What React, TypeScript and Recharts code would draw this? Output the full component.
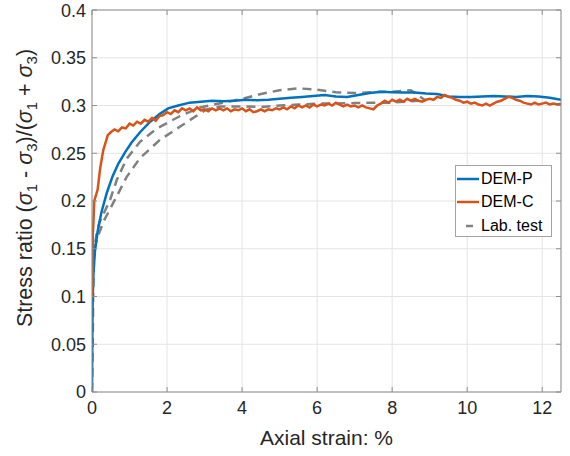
import React from 'react';
import { LineChart, Line, XAxis, YAxis, CartesianGrid, Legend } from 'recharts';

const X_TICKS = [0, 2, 4, 6, 8, 10, 12];
const Y_TICKS = [0, 0.05, 0.1, 0.15, 0.2, 0.25, 0.3, 0.35, 0.4];

// DEM-P (blue)
const demPStrain = [0, 0.005, 0.01, 0.015, 0.02, 0.04, 0.08, 0.15, 0.25, 0.39, 0.55, 0.7, 0.88, 1.05, 1.28, 1.55, 1.8, 2.03, 2.3, 2.6, 2.9, 3.2, 3.5, 3.8, 4.1, 4.4, 4.7, 5.0, 5.3, 5.6, 5.9, 6.2, 6.5, 6.8, 7.1, 7.4, 7.7, 8.0, 8.3, 8.6, 8.9, 9.2, 9.5, 9.8, 10.1, 10.4, 10.7, 11.0, 11.3, 11.6, 11.9, 12.2, 12.5];
const demPRatio = [0, 0.03, 0.06, 0.085, 0.1, 0.125, 0.148, 0.168, 0.188, 0.208, 0.226, 0.239, 0.251, 0.261, 0.272, 0.283, 0.291, 0.297, 0.3, 0.303, 0.304, 0.305, 0.3045, 0.305, 0.306, 0.3055, 0.306, 0.307, 0.308, 0.309, 0.31, 0.311, 0.3095, 0.309, 0.311, 0.313, 0.3145, 0.314, 0.3135, 0.3135, 0.3125, 0.312, 0.3095, 0.309, 0.309, 0.3095, 0.31, 0.3095, 0.309, 0.31, 0.3095, 0.308, 0.306];

// DEM-C (orange)
const demCStrain = [
  0, 0.004, 0.008, 0.012, 0.016, 0.02, 0.03, 0.06, 0.15, 0.22, 0.3, 0.42,
  0.5, 0.6, 0.7, 0.8, 0.9,
  1.0, 1.1, 1.2, 1.3, 1.4, 1.5, 1.6, 1.7, 1.8, 1.9,
  2.0, 2.1, 2.2, 2.3, 2.4, 2.5, 2.6, 2.7, 2.8, 2.9,
  3.0, 3.1, 3.2, 3.3, 3.4, 3.5, 3.6, 3.7, 3.8, 3.9,
  4.0, 4.1, 4.2, 4.3, 4.4, 4.5, 4.6, 4.7, 4.8, 4.9,
  5.0, 5.1, 5.2, 5.3, 5.4, 5.5, 5.6, 5.7, 5.8, 5.9,
  6.0, 6.1, 6.2, 6.3, 6.4, 6.5, 6.6, 6.7, 6.8, 6.9,
  7.0, 7.1, 7.2, 7.3, 7.4, 7.5, 7.6, 7.7, 7.8, 7.9,
  8.0, 8.1, 8.2, 8.3, 8.4, 8.5, 8.6, 8.7, 8.8, 8.9,
  9.0, 9.1, 9.2, 9.3, 9.4, 9.5, 9.6, 9.7, 9.8, 9.9,
  10.0, 10.1, 10.2, 10.3, 10.4, 10.5, 10.6, 10.7, 10.8, 10.9,
  11.0, 11.1, 11.2, 11.3, 11.4, 11.5, 11.6, 11.7, 11.8, 11.9,
  12.0, 12.1, 12.2, 12.3, 12.4, 12.5,
];
const demCRatio = [
  0.1, 0.165, 0.12, 0.16, 0.11, 0.165, 0.17, 0.2, 0.212, 0.235, 0.253, 0.269,
  0.272, 0.275, 0.273, 0.277, 0.276,
  0.281, 0.279, 0.283, 0.281, 0.285, 0.283, 0.287, 0.284, 0.289, 0.29,
  0.293, 0.291, 0.295, 0.293, 0.297, 0.295, 0.297, 0.294, 0.298, 0.295,
  0.296, 0.294, 0.297, 0.295, 0.297, 0.295, 0.297, 0.294, 0.296, 0.295,
  0.297, 0.294, 0.296, 0.293, 0.294, 0.296, 0.294, 0.296, 0.295, 0.297,
  0.296, 0.298, 0.296, 0.299, 0.297, 0.3, 0.298, 0.3, 0.298, 0.301,
  0.299, 0.301, 0.3, 0.302, 0.3, 0.303, 0.301, 0.299, 0.301, 0.299,
  0.3, 0.298, 0.3, 0.298, 0.297, 0.296, 0.3, 0.302, 0.305, 0.303,
  0.306, 0.304, 0.306, 0.304, 0.307, 0.305, 0.307, 0.305, 0.304, 0.306,
  0.307, 0.306, 0.309, 0.308, 0.311, 0.309, 0.308, 0.306, 0.305, 0.303,
  0.304, 0.302, 0.303, 0.301, 0.3, 0.302, 0.3, 0.302, 0.304, 0.305,
  0.307, 0.309, 0.308, 0.306, 0.305, 0.303, 0.302, 0.301, 0.303, 0.301,
  0.302, 0.303, 0.301, 0.302, 0.301, 0.302,
];

// Lab. test (two dashed branches)
const labUpperStrain = [0, 0.02, 0.03, 0.06, 0.12, 0.2, 0.35, 0.48, 0.66, 0.92, 1.28, 1.73, 2.35, 2.88, 3.5, 4.0, 4.5, 5.0, 5.5, 6.0, 6.5, 7.0, 7.5, 8.0, 8.5, 8.9];
const labUpperRatio = [0, 0.05, 0.1, 0.15, 0.165, 0.178, 0.19, 0.201, 0.222, 0.244, 0.262, 0.276, 0.289, 0.298, 0.303, 0.307, 0.312, 0.316, 0.318, 0.3165, 0.314, 0.313, 0.314, 0.3145, 0.316, 0.305];
const labLowerStrain = [0.06, 0.15, 0.3, 0.5, 0.7, 0.92, 1.28, 1.81, 2.35, 2.7, 3.06, 3.42, 4.0, 4.5, 5.0, 5.5, 6.0, 6.5, 7.0, 7.5, 8.0, 8.3, 8.7];
const labLowerRatio = [0.15, 0.162, 0.178, 0.193, 0.208, 0.225, 0.245, 0.264, 0.278, 0.287, 0.296, 0.299, 0.299, 0.2985, 0.3, 0.301, 0.302, 0.302, 0.3025, 0.303, 0.303, 0.304, 0.305];

const LEGEND_ORDER = ['DEM-P', 'DEM-C', 'Lab. test'];

const toPoints = (xs: number[], ys: number[]) => xs.map((x, i) => ({ x, y: ys[i] }));

const demP = toPoints(demPStrain, demPRatio);
const demC = toPoints(demCStrain, demCRatio);
const labUpper = toPoints(labUpperStrain, labUpperRatio);
const labLower = toPoints(labLowerStrain, labLowerRatio);

const FONT = '"Liberation Sans", Arial, Helvetica, sans-serif';
const AXIS_COLOR = '#8f8f8f';
const TEXT_COLOR = '#262626';

const YLabel = () => (
  <text
    transform="translate(32, 188) rotate(-90)"
    textAnchor="middle"
    fontFamily={FONT}
    fontSize={21.5}
    fill={TEXT_COLOR}
  >
    Stress ratio (<tspan fontStyle="italic">σ</tspan>
    <tspan fontSize={15} dy={5}>1</tspan>
    <tspan dy={-5}> - </tspan>
    <tspan fontStyle="italic">σ</tspan>
    <tspan fontSize={15} dy={5}>3</tspan>
    <tspan dy={-5}>)/(</tspan>
    <tspan fontStyle="italic">σ</tspan>
    <tspan fontSize={15} dy={5}>1</tspan>
    <tspan dy={-5}> + </tspan>
    <tspan fontStyle="italic">σ</tspan>
    <tspan fontSize={15} dy={5}>3</tspan>
    <tspan dy={-5}>)</tspan>
  </text>
);

const LegendBox = (props: any) => {
  const items = (props.payload || [])
    .filter((p: any) => p.type !== 'none' && LEGEND_ORDER.includes(p.value))
    .sort((a: any, b: any) => LEGEND_ORDER.indexOf(a.value) - LEGEND_ORDER.indexOf(b.value));
  return (
    <div
      style={{
        width: 97,
        height: 72,
        boxSizing: 'border-box',
        border: '1px solid #a3a3a3',
        background: '#fff',
        paddingTop: 1,
        fontFamily: FONT,
        fontSize: 16,
        color: '#000',
      }}
    >
      {items.map((item: any) => {
        const dashed = item.value === 'Lab. test';
        return (
          <div key={item.value} style={{ display: 'flex', alignItems: 'center', height: 23.5 }}>
            <svg width={25} height={6} style={{ flex: 'none' }}>
              {dashed ? (
                <line x1={10} y1={3} x2={17} y2={3} stroke={item.color} strokeWidth={2.5} />
              ) : (
                <line x1={1} y1={3} x2={23} y2={3} stroke={item.color} strokeWidth={2.5} />
              )}
            </svg>
            <span>{item.value}</span>
          </div>
        );
      })}
    </div>
  );
};

export default function App() {
  return (
    <div style={{ position: 'absolute', left: 0, top: 0, background: '#fff' }}>
      <LineChart width={570} height={456} margin={{ top: 0, right: 0, bottom: 0, left: 0 }}>
        <CartesianGrid xAxisId="b" yAxisId="l" stroke="#e4e4e4" strokeWidth={1} />
        <XAxis
          xAxisId="b"
          dataKey="x"
          type="number"
          domain={[0, 12.5]}
          ticks={X_TICKS}
          allowDataOverflow
          orientation="bottom"
          height={64}
          tickSize={-5}
          tickMargin={14}
          stroke={AXIS_COLOR}
          tick={{ fill: TEXT_COLOR, fontSize: 18, fontFamily: FONT }}
          label={{ value: 'Axial strain: %', position: 'insideBottom', offset: 11, fill: TEXT_COLOR, fontSize: 21, fontFamily: FONT }}
        />
        <XAxis
          xAxisId="t"
          dataKey="x"
          type="number"
          domain={[0, 12.5]}
          ticks={X_TICKS}
          allowDataOverflow
          orientation="top"
          height={10}
          tickSize={-5}
          stroke={AXIS_COLOR}
          tickFormatter={() => ''}
        />
        <YAxis
          yAxisId="l"
          type="number"
          domain={[0, 0.4]}
          ticks={Y_TICKS}
          allowDataOverflow
          orientation="left"
          width={92}
          tickSize={-5}
          tickMargin={11}
          stroke={AXIS_COLOR}
          tick={{ fill: TEXT_COLOR, fontSize: 18, fontFamily: FONT }}
          label={<YLabel />}
        />
        <YAxis
          yAxisId="r"
          type="number"
          domain={[0, 0.4]}
          ticks={Y_TICKS}
          allowDataOverflow
          orientation="right"
          width={9}
          tickSize={-5}
          stroke={AXIS_COLOR}
          tickFormatter={() => ''}
        />
        <Legend
          layout="horizontal"
          verticalAlign="middle"
          align="center"
          wrapperStyle={{ left: 455, top: 165, width: 97, right: 'auto', bottom: 'auto' }}
          content={<LegendBox />}
        />
        <Line
          xAxisId="b"
          yAxisId="l"
          data={labUpper}
          dataKey="y"
          name="Lab. test"
          stroke="#808080"
          strokeWidth={2.5}
          strokeDasharray="9 6"
          dot={false}
          isAnimationActive={false}
        />
        <Line
          xAxisId="b"
          yAxisId="l"
          data={labLower}
          dataKey="y"
          name="Lab. test lower"
          stroke="#808080"
          strokeWidth={2.5}
          strokeDasharray="9 6"
          dot={false}
          legendType="none"
          isAnimationActive={false}
        />
        <Line
          xAxisId="b"
          yAxisId="l"
          data={demP}
          dataKey="y"
          name="DEM-P"
          stroke="#0072BD"
          strokeWidth={2.5}
          dot={false}
          isAnimationActive={false}
        />
        <Line
          xAxisId="b"
          yAxisId="l"
          data={demC}
          dataKey="y"
          name="DEM-C"
          stroke="#D95319"
          strokeWidth={2.5}
          dot={false}
          isAnimationActive={false}
        />
      </LineChart>
    </div>
  );
}
